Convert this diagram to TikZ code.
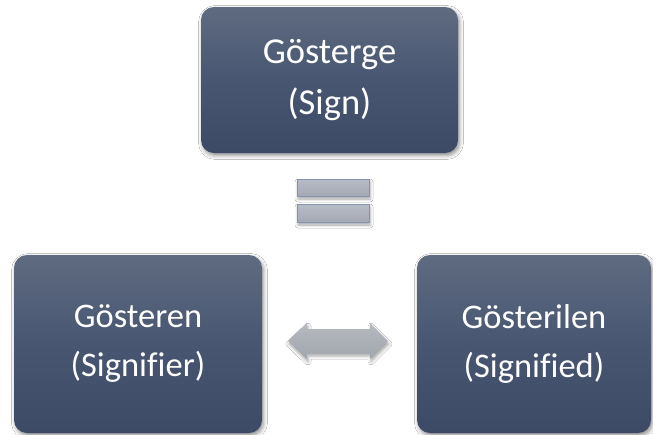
\documentclass[tikz,border=0pt]{standalone}
\usepackage{fontspec}
\setmainfont{Carlito}[Ligatures=CommonOff]
\usetikzlibrary{shadows.blur}
\definecolor{boxtop}{HTML}{5F6B80}
\definecolor{boxmid}{HTML}{485672}
\definecolor{boxbot}{HTML}{3C4A65}
\definecolor{bartop}{HTML}{B8BCC6}
\definecolor{barbot}{HTML}{A3A8B3}
\definecolor{barline}{HTML}{8593B2}
\definecolor{arrtop}{HTML}{B6B9C0}
\definecolor{arrbot}{HTML}{A1A5AD}
\tikzset{
  mainbox/.style={rectangle, rounded corners=13pt, top color=boxtop, bottom color=boxbot, middle color=boxmid,
    text=white, align=center, inner sep=0pt,
    blur shadow={shadow xshift=1.5pt, shadow yshift=-2.5pt, shadow blur radius=4pt, shadow opacity=45}},
  eqbar/.style={rectangle, top color=bartop, bottom color=barbot, draw=barline, line width=0.8pt,
    minimum width=72pt, inner sep=0pt,
    blur shadow={shadow xshift=1pt, shadow yshift=-3pt, shadow blur radius=3pt, shadow opacity=35}},
  grayarrow/.style={top color=arrtop, bottom color=arrbot,
    blur shadow={shadow xshift=1pt, shadow yshift=-3pt, shadow blur radius=3pt, shadow opacity=35}}
}
\begin{document}
\begin{tikzpicture}[x=1pt,y=-1pt]
\fill[white] (0,0) rectangle (653,434);
\useasboundingbox (0,0) rectangle (653,434);
\node[mainbox, minimum width=257pt, minimum height=146pt, font=\fontsize{36.5}{51}\selectfont] (sign) at (329.5,80) {Gösterge\\(Sign)};
\node[mainbox, minimum width=248pt, minimum height=178pt, font=\fontsize{34.5}{49}\selectfont] (signifier) at (138,344) {Gösteren\\(Signifier)};
\node[mainbox, minimum width=234pt, minimum height=178pt, font=\fontsize{34.5}{49}\selectfont] (signified) at (534,344) {Gösterilen\\(Signified)};
\node[eqbar, minimum height=17pt] (eqa) at (333,187.5) {};
\node[eqbar, minimum height=18pt] (eqb) at (333,213) {};
\path[grayarrow] (288,341) -- (307,323) -- (307,329) -- (370,329) -- (370,323) -- (388,341)
  -- (370,359) -- (370,353) -- (307,353) -- (307,359) -- cycle;
\end{tikzpicture}
\end{document}
